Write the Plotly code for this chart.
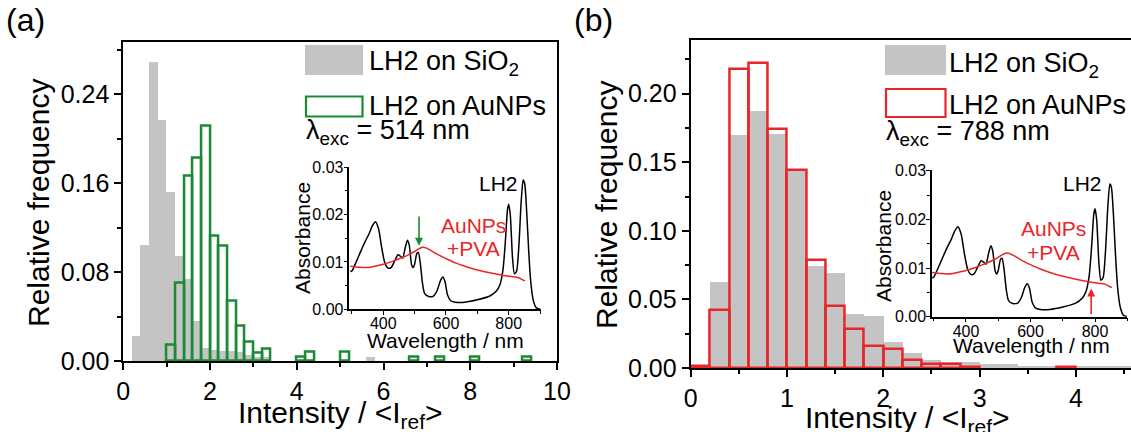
import plotly.graph_objects as go

W, H = 1131, 432
FONT = "Liberation Sans, Arial, sans-serif"
GRAY = "#C4C4C4"
GREEN = "#1B8A35"
RED = "#E8262A"

# ---------------- data ----------------
# panel (a): bin centers (bin width 0.2) and relative frequencies
gray_a_x = [0.3, 0.5, 0.7, 0.9, 1.1, 1.3, 1.5, 1.7, 1.9, 2.1, 2.3, 2.5, 2.7, 2.9, 3.1, 3.3, 5.7]
gray_a_y = [0.023, 0.105, 0.269, 0.217, 0.152, 0.095, 0.074, 0.036, 0.012, 0.010, 0.009,
            0.009, 0.008, 0.006, 0.004, 0.004, 0.004]
green_a_x = [1.1, 1.3, 1.5, 1.7, 1.9, 2.1, 2.3, 2.5, 2.7, 2.9, 3.1, 3.3, 4.1, 4.3, 5.1, 6.7, 7.3, 8.1, 9.3]
green_a_y = [0.0144, 0.0705, 0.1665, 0.183, 0.212, 0.113, 0.1035, 0.054, 0.0318, 0.0174, 0.0075,
             0.0108, 0.004, 0.008, 0.008, 0.004, 0.004, 0.004, 0.004]

# panel (b)
gray_b_x = [0.3, 0.5, 0.7, 0.9, 1.1, 1.3, 1.5, 1.7, 1.9, 2.1, 2.3, 2.5, 2.7, 2.9, 3.1, 3.3, 3.5, 3.7,
            3.9, 4.1, 4.3, 4.5]
gray_b_y = [0.0627, 0.1696, 0.187, 0.1708, 0.144, 0.074, 0.0695, 0.0396, 0.0377, 0.019, 0.011,
            0.006, 0.0046, 0.0046, 0.003, 0.003, 0.0015, 0.0015, 0.001, 0.0008, 0.0015, 0.0008]
red_b_x = [0.1, 0.3, 0.5, 0.7, 0.9, 1.1, 1.3, 1.5, 1.7, 1.9, 2.1, 2.3, 2.5, 2.7, 2.9, 3.9]
red_b_y = [0.0012, 0.042, 0.2177, 0.2223, 0.1742, 0.1446, 0.079, 0.0455, 0.0284, 0.016, 0.0141,
           0.0055, 0.003, 0.003, 0.001, 0.001]
BIN_W = 0.2

# inset spectra
lh2_wl = [295, 300, 320, 340, 355, 365, 375, 385, 395, 405, 415, 425, 435, 447, 455, 462, 470, 477,
          483, 490, 495, 500, 507, 512, 518, 525, 532, 545, 560, 572, 582, 590, 597, 605, 615, 630,
          660, 700, 740, 760, 772, 782, 790, 796, 800, 805, 812, 818, 825, 832, 840, 846, 851, 857,
          864, 870, 878, 888, 900]
lh2_abs = [0.0080, 0.0081, 0.0110, 0.0140, 0.0160, 0.0176, 0.0185, 0.0170, 0.0130, 0.0098, 0.0087,
           0.0088, 0.0100, 0.0115, 0.0112, 0.0108, 0.0130, 0.0146, 0.0135, 0.0095, 0.0088, 0.0095,
           0.0118, 0.0120, 0.0098, 0.0055, 0.0033, 0.0027, 0.0028, 0.0040, 0.0060, 0.0068, 0.0058,
           0.0030, 0.0018, 0.0015, 0.0015, 0.0020, 0.0028, 0.0038, 0.0052, 0.0085, 0.0150, 0.0210,
           0.0222, 0.0200, 0.0110, 0.0075, 0.0080, 0.0130, 0.0230, 0.0273, 0.0265, 0.0210, 0.0120,
           0.0060, 0.0020, 0.0003, 0.0]
au_wl = [295, 320, 340, 360, 380, 400, 420, 440, 460, 480, 500, 515, 525, 535, 550, 570, 600, 630,
         660, 700, 740, 780, 810, 830, 845, 852]
au_abs = [0.0091, 0.0089, 0.0088, 0.0089, 0.0092, 0.0095, 0.0099, 0.0104, 0.0109, 0.0115, 0.0122,
          0.0128, 0.0131, 0.0130, 0.0125, 0.0117, 0.0107, 0.0098, 0.0091, 0.0083, 0.0077, 0.0072,
          0.0069, 0.0067, 0.0062, 0.0060]

exc_a = 514
exc_b = 788


def fx(x):
    return x / W


def fy(y):
    return 1 - y / H


fig = go.Figure()

# ---------------- bars ----------------
fig.add_trace(go.Bar(x=gray_a_x, y=gray_a_y, width=BIN_W, marker=dict(color=GRAY, line=dict(width=0)),
                     xaxis="x", yaxis="y", showlegend=False))
fig.add_trace(go.Bar(x=green_a_x, y=green_a_y, width=BIN_W,
                     marker=dict(color="rgba(0,0,0,0)", line=dict(color=GREEN, width=2.5)),
                     xaxis="x", yaxis="y", showlegend=False))
fig.add_trace(go.Bar(x=gray_b_x, y=gray_b_y, width=BIN_W, marker=dict(color=GRAY, line=dict(width=0)),
                     xaxis="x2", yaxis="y2", showlegend=False))
fig.add_trace(go.Bar(x=red_b_x, y=red_b_y, width=BIN_W,
                     marker=dict(color="rgba(0,0,0,0)", line=dict(color=RED, width=2.5)),
                     xaxis="x2", yaxis="y2", showlegend=False))

# ---------------- insets ----------------
for xa, ya in (("x3", "y3"), ("x4", "y4")):
    fig.add_trace(go.Scatter(x=lh2_wl, y=lh2_abs, mode="lines",
                             line=dict(color="black", width=1.5, shape="spline", smoothing=0.6),
                             xaxis=xa, yaxis=ya, showlegend=False))
    fig.add_trace(go.Scatter(x=au_wl, y=au_abs, mode="lines", line=dict(color=RED, width=1.5, shape="spline"),
                             xaxis=xa, yaxis=ya, showlegend=False))

main_ax = dict(showline=True, linewidth=2, linecolor="black", showgrid=False, zeroline=False,
               ticks="outside", ticklen=7, tickwidth=2, tickcolor="black",
               tickfont=dict(family=FONT, size=25, color="black"), automargin=False)
inset_ax = dict(showline=True, linewidth=1.5, linecolor="black", showgrid=False, zeroline=False,
                ticks="outside", ticklen=4, tickwidth=1.2, tickcolor="black",
                tickfont=dict(family=FONT, size=16, color="black"), automargin=False)
mminor = dict(ticklen=4, tickwidth=2, ticks="outside", tickcolor="black")
iminor = dict(ticklen=3, tickwidth=1.2, ticks="outside", tickcolor="black")

fig.update_layout(
    width=W, height=H, margin=dict(l=0, r=0, t=0, b=0),
    paper_bgcolor="white", plot_bgcolor="rgba(0,0,0,0)",
    barmode="overlay", bargap=0,
    font=dict(family=FONT, color="black"),
    xaxis=dict(main_ax, domain=[fx(123.3), fx(557)], range=[0, 10], anchor="y", tick0=0, dtick=2,
               mirror=True, minor=dict(mminor, dtick=1)),
    yaxis=dict(main_ax, domain=[fy(361), fy(41.7)], range=[0, 0.2873], anchor="x", tick0=0, dtick=0.08,
               tickformat=".2f", mirror=True, minor=dict(mminor, dtick=0.04)),
    xaxis2=dict(main_ax, domain=[fx(690.7), 1], range=[0, 4.572], anchor="y2", tick0=0, dtick=1,
                mirror=True, minor=dict(mminor, dtick=0.5)),
    yaxis2=dict(main_ax, domain=[fy(368), fy(40)], range=[0, 0.2391], anchor="x2", tick0=0, dtick=0.05,
                tickformat=".2f", mirror=False, minor=dict(mminor, dtick=0.025)),
    xaxis3=dict(inset_ax, domain=[fx(349.4), fx(540.7)], range=[292, 902], anchor="y3", tick0=0, dtick=200,
                ticklabelstandoff=-5, minor=dict(iminor, dtick=100)),
    yaxis3=dict(inset_ax, domain=[fy(309.3), fy(166.7)], range=[0, 0.0301], anchor="x3", tick0=0, dtick=0.01,
                ticklabelstandoff=-3, tickformat=".2f", minor=dict(iminor, dtick=0.005)),
    xaxis4=dict(inset_ax, domain=[fx(932.1), fx(1127.3)], range=[295, 900], anchor="y4", tick0=0, dtick=200,
                ticklabelstandoff=-5, minor=dict(iminor, dtick=100)),
    yaxis4=dict(inset_ax, domain=[fy(316.7), fy(170.3)], range=[0, 0.0301], anchor="x4", tick0=0, dtick=0.01,
                ticklabelstandoff=-3, tickformat=".2f", minor=dict(iminor, dtick=0.005)),
)

ann = []


def txt(x, y, text, size, xanchor="center", yanchor="middle", color="black", angle=0, xref="paper", yref="paper"):
    ann.append(dict(x=x, y=y, xref=xref, yref=yref, text=text, showarrow=False, xanchor=xanchor,
                    yanchor=yanchor, textangle=angle, font=dict(family=FONT, size=size, color=color)))


# panel labels
txt(fx(4), fy(20), "(a)", 32, xanchor="left")
txt(fx(572), fy(20), "(b)", 32, xanchor="left")
# main axis titles
txt(fx(38), fy(203), "Relative frequency", 30, angle=-90)
txt(fx(607), fy(205), "Relative frequency", 30, angle=-90)
txt(fx(340), fy(414), "Intensity / &lt;I<sub>ref</sub>&gt;", 30)
txt(fx(907), fy(419), "Intensity / &lt;I<sub>ref</sub>&gt;", 30)
# inset titles
txt(fx(302), fy(238), "Absorbance", 21, angle=-90)
txt(fx(445), fy(340), "Wavelength / nm", 21)
txt(fx(883), fy(246), "Absorbance", 21, angle=-90)
txt(fx(1031), fy(345), "Wavelength / nm", 21)
# inset labels
txt(836, 0.0266, "LH2", 21, xanchor="right", xref="x3", yref="y3")
txt(687, 0.0177, "AuNPs", 21, color=RED, xref="x3", yref="y3")
txt(687, 0.0129, "+PVA", 21, color=RED, xref="x3", yref="y3")
txt(828, 0.0273, "LH2", 21, xanchor="right", xref="x4", yref="y4")
txt(671, 0.0181, "AuNPs", 21, color=RED, xref="x4", yref="y4")
txt(671, 0.0133, "+PVA", 21, color=RED, xref="x4", yref="y4")

# legends
txt(fx(367), fy(63), "LH2 on SiO<sub>2</sub>", 27, xanchor="left")
txt(fx(367), fy(106), "LH2 on AuNPs", 27, xanchor="left")
txt(fx(304), fy(132), "λ<sub>exc</sub> = %d nm" % exc_a, 27, xanchor="left")
txt(fx(947), fy(65), "LH2 on SiO<sub>2</sub>", 27, xanchor="left")
txt(fx(947), fy(105), "LH2 on AuNPs", 27, xanchor="left")
txt(fx(884), fy(133), "λ<sub>exc</sub> = %d nm" % exc_b, 27, xanchor="left")

# arrows marking excitation wavelength
ann.append(dict(x=exc_a, y=0.0134, xref="x3", yref="y3", ax=exc_a, ay=0.0199, axref="x3", ayref="y3",
                text="", showarrow=True, arrowhead=2, arrowsize=1, arrowwidth=1.6, arrowcolor=GREEN))
ann.append(dict(x=exc_b, y=0.0058, xref="x4", yref="y4", ax=exc_b, ay=0.0002, axref="x4", ayref="y4",
                text="", showarrow=True, arrowhead=2, arrowsize=1, arrowwidth=1.6, arrowcolor=RED))

fig.update_layout(annotations=ann)

shapes = [
    dict(type="rect", xref="paper", yref="paper", x0=fx(305), x1=fx(363), y0=fy(75), y1=fy(45),
         fillcolor=GRAY, line=dict(width=0)),
    dict(type="rect", xref="paper", yref="paper", x0=fx(306), x1=fx(362.5), y0=fy(116.5), y1=fy(96.5),
         fillcolor="white", line=dict(color=GREEN, width=2.2)),
    dict(type="rect", xref="paper", yref="paper", x0=fx(885), x1=fx(946), y0=fy(75), y1=fy(45),
         fillcolor=GRAY, line=dict(width=0)),
    dict(type="rect", xref="paper", yref="paper", x0=fx(886), x1=fx(945.5), y0=fy(117), y1=fy(89),
         fillcolor="white", line=dict(color=RED, width=2.2)),
]
fig.update_layout(shapes=shapes)

fig.write_html("out.html")
